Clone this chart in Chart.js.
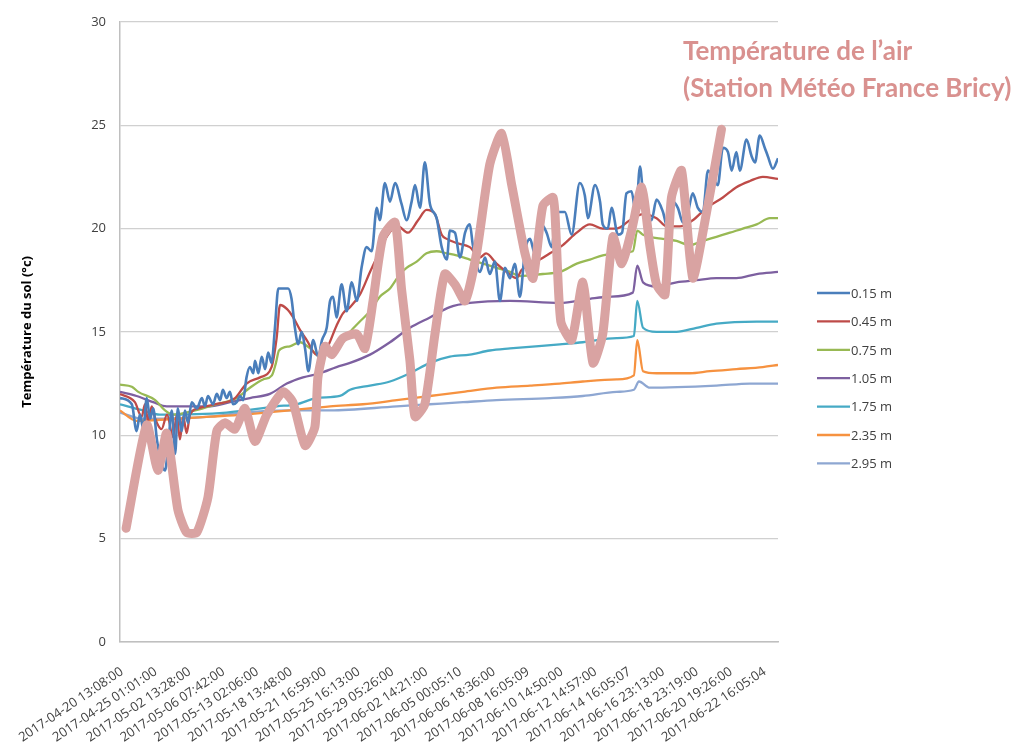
<!DOCTYPE html>
<html>
<head>
<meta charset="utf-8">
<script src="https://cdn.jsdelivr.net/npm/chart.js@4/dist/chart.umd.min.js"></script>
<style>
  html, body { margin: 0; padding: 0; background: #fff; }
  canvas { display: block; }
</style>
</head>
<body>
<canvas id="chart" width="1021" height="742"></canvas>
<script>
// x values are in units of the label interval (label i sits at x = i)
const xLabels = [
    '2017-04-20 13:08:00', '2017-04-25 01:01:00', '2017-05-02 13:28:00', '2017-05-06 07:42:00',
    '2017-05-13 02:06:00', '2017-05-18 13:48:00', '2017-05-21 16:59:00', '2017-05-25 16:13:00',
    '2017-05-29 05:26:00', '2017-06-02 14:21:00', '2017-06-05 00:05:10', '2017-06-06 18:36:00',
    '2017-06-08 16:05:09', '2017-06-10 14:50:00', '2017-06-12 14:57:00', '2017-06-14 16:05:07',
    '2017-06-16 23:13:00', '2017-06-18 23:19:00', '2017-06-20 19:26:00', '2017-06-22 16:05:04'
];
const yTicks = [0, 5, 10, 15, 20, 25, 30];

// Température de l'air (Météo France Bricy)
const airTemp = [
    [0.12, 5.5], [0.73, 10.5], [1.06, 8.3], [1.32, 10.1], [1.65, 6.4], [1.91, 5.3], [2.21, 5.3],
    [2.54, 7.0], [2.80, 10.2], [3.04, 10.6], [3.34, 10.3], [3.63, 11.3], [3.93, 9.7], [4.28, 11.0],
    [4.76, 12.1], [5.05, 11.6], [5.41, 9.5], [5.70, 10.4], [5.79, 12.8], [6.00, 14.3], [6.20, 13.9],
    [6.53, 14.7], [6.94, 14.9], [7.18, 14.2], [7.42, 16.5], [7.71, 19.6], [8.07, 20.3], [8.26, 17.1],
    [8.51, 13.6], [8.66, 10.9], [8.95, 11.5], [9.25, 14.9], [9.54, 17.8], [9.84, 17.3], [10.14, 16.5],
    [10.48, 18.8], [10.87, 23.1], [11.22, 24.6], [11.52, 22.1], [11.91, 18.8], [12.15, 17.6],
    [12.44, 21.1], [12.74, 21.5], [12.82, 20.0], [12.97, 15.5], [13.29, 14.6], [13.62, 17.4],
    [13.92, 13.5], [14.21, 14.9], [14.51, 19.6], [14.77, 18.3], [15.06, 19.9], [15.36, 22.0],
    [15.60, 19.2], [15.80, 17.3], [16.05, 16.8], [16.24, 21.5], [16.54, 22.8], [16.87, 17.6],
    [17.28, 20.8], [17.72, 24.8]
];

const soil015 = [
    [-0.06, 11.8], [0.29, 11.5], [0.43, 10.2], [0.53, 11.0], [0.63, 10.3], [0.73, 11.8], [0.83, 10.8],
    [0.92, 11.3], [1.03, 9.8], [1.17, 8.6], [1.27, 8.3], [1.36, 9.4], [1.47, 11.2], [1.57, 9.1],
    [1.65, 11.3], [1.76, 10.2], [1.86, 11.2], [1.95, 10.6], [2.06, 11.6], [2.21, 11.3], [2.36, 11.8],
    [2.45, 11.4], [2.54, 11.9], [2.69, 11.5], [2.80, 12.0], [2.90, 11.7], [2.98, 12.2], [3.09, 11.8],
    [3.19, 12.1], [3.28, 11.5], [3.39, 11.6], [3.49, 11.9], [3.58, 11.7], [3.68, 12.8], [3.78, 13.3],
    [3.88, 13.0], [3.93, 13.6], [4.03, 13.0], [4.13, 13.8], [4.23, 13.2], [4.32, 14.0], [4.42, 13.5],
    [4.52, 15.2], [4.62, 17.1], [4.91, 17.1], [5.01, 16.6], [5.11, 15.2], [5.21, 14.4], [5.31, 15.0],
    [5.41, 14.2], [5.51, 13.1], [5.65, 14.6], [5.80, 13.8], [5.91, 14.6], [6.05, 15.2], [6.15, 16.5],
    [6.24, 16.7], [6.34, 15.7], [6.49, 17.3], [6.64, 16.0], [6.79, 17.4], [6.94, 16.5], [7.08, 18.1],
    [7.23, 19.1], [7.38, 18.9], [7.53, 21.0], [7.62, 20.4], [7.77, 22.2], [7.92, 21.3], [8.07, 22.2],
    [8.26, 21.2], [8.41, 20.4], [8.56, 21.3], [8.66, 22.1], [8.81, 21.0], [8.95, 23.2], [9.10, 21.2],
    [9.30, 20.5], [9.45, 19.1], [9.60, 18.5], [9.69, 19.9], [9.84, 19.8], [9.99, 18.6], [10.14, 19.8],
    [10.28, 20.2], [10.37, 19.2], [10.58, 17.9], [10.73, 18.6], [10.87, 17.8], [11.02, 18.4],
    [11.17, 16.5], [11.32, 18.1], [11.47, 17.6], [11.61, 18.3], [11.76, 16.7], [11.91, 18.9],
    [12.06, 19.5], [12.20, 18.8], [12.40, 20.2], [12.55, 19.8], [12.70, 19.1], [12.84, 20.8],
    [13.09, 20.8], [13.29, 19.7], [13.53, 22.2], [13.68, 21.6], [13.77, 20.5], [13.98, 22.1],
    [14.13, 21.3], [14.21, 20.2], [14.36, 20.0], [14.47, 21.0], [14.66, 19.7], [14.78, 19.8],
    [14.91, 21.7], [15.06, 21.8], [15.19, 20.7], [15.31, 23.0], [15.40, 21.7], [15.51, 20.8],
    [15.65, 20.4], [15.80, 21.4], [15.99, 20.8], [16.13, 20.0], [16.28, 21.3], [16.43, 21.0],
    [16.58, 20.3], [16.73, 20.8], [16.87, 21.7], [17.02, 21.0], [17.17, 20.8], [17.32, 22.8],
    [17.46, 22.5], [17.61, 22.1], [17.76, 23.9], [17.91, 23.7], [18.02, 22.8], [18.16, 23.7],
    [18.26, 22.8], [18.46, 24.3], [18.61, 23.5], [18.71, 23.2], [18.85, 24.5], [19.00, 23.9],
    [19.09, 23.5], [19.24, 22.9], [19.39, 23.4]
];

const soil045 = [
    [-0.06, 12.0], [0.38, 11.6], [0.58, 10.9], [0.68, 11.5], [0.77, 10.7], [0.88, 11.4], [0.98, 10.8],
    [1.17, 10.3], [1.33, 11.0], [1.51, 9.9], [1.62, 11.0], [1.71, 9.8], [1.81, 10.9], [1.91, 10.1],
    [2.01, 11.0], [2.25, 11.3], [2.75, 11.5], [3.34, 11.8], [3.68, 12.5], [4.08, 12.8], [4.42, 13.3],
    [4.57, 14.7], [4.67, 16.3], [4.88, 16.1], [5.06, 15.7], [5.26, 15.1], [5.46, 14.6], [5.75, 13.9],
    [6.05, 14.2], [6.34, 15.3], [6.53, 15.9], [6.74, 16.2], [7.03, 16.8], [7.33, 17.9], [7.53, 18.6],
    [7.86, 19.7], [8.16, 20.1], [8.45, 19.8], [8.75, 20.4], [9.00, 20.9], [9.25, 20.7], [9.45, 19.7],
    [9.60, 19.5], [9.89, 19.3], [10.28, 19.1], [10.58, 18.6], [10.76, 18.8], [11.07, 18.3],
    [11.37, 17.9], [11.66, 17.6], [11.81, 18.0], [12.06, 18.3], [12.35, 18.5], [12.65, 18.8],
    [13.03, 19.2], [13.44, 19.8], [13.83, 20.2], [14.21, 20.0], [14.62, 20.0], [15.01, 20.4],
    [15.40, 20.7], [15.80, 20.5], [16.10, 20.1], [16.49, 20.1], [16.87, 20.4], [17.28, 21.0],
    [17.76, 21.5], [18.16, 22.0], [18.56, 22.3], [18.94, 22.5], [19.39, 22.4]
];

const soil075 = [
    [-0.06, 12.45], [0.29, 12.35], [0.48, 12.1], [0.98, 11.7], [1.27, 11.2], [1.51, 11.0], [2.16, 11.2],
    [2.80, 11.5], [3.39, 11.8], [3.78, 12.3], [4.17, 12.7], [4.43, 12.9], [4.55, 13.5], [4.64, 14.1],
    [4.96, 14.3], [5.26, 14.5], [5.56, 14.2], [5.85, 13.8], [6.24, 14.2], [6.44, 14.3], [6.74, 15.0],
    [7.03, 15.5], [7.33, 16.0], [7.62, 16.7], [7.92, 17.1], [8.22, 17.8], [8.41, 18.1], [8.71, 18.4],
    [9.00, 18.8], [9.30, 18.9], [9.60, 18.8], [9.89, 18.7], [10.28, 18.5], [10.67, 18.3], [11.07, 18.1],
    [11.47, 17.9], [11.76, 17.7], [12.44, 17.8], [12.94, 17.9], [13.44, 18.3], [13.83, 18.5],
    [14.21, 18.7], [14.62, 18.8], [15.10, 18.9], [15.23, 19.9], [15.40, 19.7], [15.60, 19.6],
    [15.99, 19.5], [16.39, 19.4], [16.78, 19.2], [17.17, 19.4], [17.57, 19.6], [17.97, 19.8],
    [18.35, 20.0], [18.76, 20.2], [19.15, 20.5], [19.39, 20.5]
];

const soil105 = [
    [-0.06, 12.1], [0.43, 11.9], [0.92, 11.6], [1.32, 11.4], [1.91, 11.4], [2.60, 11.4], [3.19, 11.6],
    [3.78, 11.8], [4.37, 12.0], [4.87, 12.5], [5.35, 12.8], [5.85, 13.0], [6.34, 13.3], [6.74, 13.5],
    [7.33, 13.9], [7.92, 14.5], [8.51, 15.2], [9.10, 15.7], [9.69, 16.2], [10.28, 16.4], [11.47, 16.5],
    [12.94, 16.4], [13.83, 16.6], [14.42, 16.7], [15.10, 16.9], [15.23, 18.2], [15.40, 17.4],
    [15.80, 17.2], [16.39, 17.4], [16.98, 17.5], [17.57, 17.6], [18.16, 17.6], [18.76, 17.8], [19.39, 17.9]
];

const soil175 = [
    [-0.06, 11.5], [0.62, 11.2], [1.12, 11.0], [3.09, 11.1], [4.57, 11.4], [5.16, 11.5], [5.75, 11.8],
    [6.44, 11.9], [6.74, 12.2], [7.33, 12.4], [7.92, 12.6], [8.51, 13.0], [9.10, 13.5], [9.69, 13.8],
    [10.28, 13.9], [10.87, 14.1], [11.47, 14.2], [12.94, 14.4], [13.62, 14.5], [14.62, 14.7],
    [15.13, 14.8], [15.23, 16.5], [15.40, 15.2], [15.80, 15.0], [16.39, 15.0], [16.98, 15.2],
    [17.57, 15.4], [18.76, 15.5], [19.39, 15.5]
];

const soil235 = [
    [-0.06, 11.2], [0.43, 10.7], [1.62, 10.8], [2.60, 10.9], [3.58, 11.0], [4.96, 11.2], [6.15, 11.4],
    [7.12, 11.5], [8.12, 11.7], [9.10, 11.9], [10.08, 12.1], [11.07, 12.3], [12.06, 12.4], [12.94, 12.5],
    [13.62, 12.6], [14.62, 12.7], [15.13, 12.9], [15.23, 14.6], [15.40, 13.1], [15.80, 13.0],
    [16.78, 13.0], [17.38, 13.1], [18.16, 13.2], [18.94, 13.3], [19.39, 13.4]
];

const soil295 = [
    [-0.06, 11.1], [0.62, 10.8], [2.60, 10.9], [3.58, 11.1], [4.96, 11.2], [6.15, 11.2], [8.12, 11.4],
    [9.10, 11.5], [10.08, 11.6], [11.07, 11.7], [12.65, 11.8], [13.62, 11.9], [14.62, 12.1],
    [15.13, 12.2], [15.28, 12.6], [15.60, 12.3], [17.57, 12.4], [18.56, 12.5], [19.39, 12.5]
];

const depthNames = ['0.15 m', '0.45 m', '0.75 m', '1.05 m', '1.75 m', '2.35 m', '2.95 m'];
const depthColors = ['#4a7ebb', '#be4b48', '#98b954', '#7d60a0', '#46aac5', '#f69240', '#8ea7d2'];
const depthSeries = [soil015, soil045, soil075, soil105, soil175, soil235, soil295];

const airColor = '#d9a3a2';
const txtColor = '#404040';

const datasets = [{
    label: "Température de l'air",
    data: airTemp,
    borderColor: airColor,
    borderWidth: 9,
    borderCapStyle: 'round',
    borderJoinStyle: 'round',
    tension: 0.2,
    pointRadius: 0,
    fill: false
}];
depthSeries.forEach((series, i) => {
    datasets.push({
        label: depthNames[i],
        data: series,
        borderColor: depthColors[i],
        backgroundColor: depthColors[i],
        borderWidth: i === 0 ? 2.6 : 2.3,
        cubicInterpolationMode: 'monotone',
        pointRadius: 0,
        fill: false
    });
});

// legend on the right, plus the pink air temperature caption
const sideText = {
    id: 'sideText',
    afterDraw(chart) {
        const ctx = chart.ctx;
        const area = chart.chartArea;
        ctx.save();
        // caption
        ctx.fillStyle = '#d9918f';
        ctx.font = 'bold 26px Lato';
        ctx.textBaseline = 'alphabetic';
        ctx.textAlign = 'left';
        ctx.fillText("Température de l’air", area.right - 95, 60);
        ctx.fillText('(Station Météo France Bricy)', area.right - 95, 97);
        // legend
        const lx = area.right + 39;
        const ly = 293;
        ctx.font = '13px "Open Sans"';
        ctx.textBaseline = 'middle';
        depthNames.forEach((name, i) => {
            const y = ly + i * 28.4;
            ctx.strokeStyle = depthColors[i];
            ctx.lineWidth = i === 0 ? 2.6 : 2.3;
            ctx.beginPath();
            ctx.moveTo(lx, y);
            ctx.lineTo(lx + 33, y);
            ctx.stroke();
            ctx.fillStyle = txtColor;
            ctx.fillText(name, lx + 34, y + 1);
        });
        ctx.restore();
    }
};

const bgWhite = {
    id: 'bgWhite',
    beforeDraw(chart) {
        const ctx = chart.ctx;
        ctx.save();
        ctx.fillStyle = '#ffffff';
        ctx.fillRect(0, 0, chart.width, chart.height);
        ctx.restore();
    }
};

new Chart(document.getElementById('chart'), {
    type: 'line',
    data: { datasets: datasets },
    options: {
        responsive: false,
        animation: false,
        layout: { padding: { top: 20, right: 243, left: 0, bottom: 0 } },
        plugins: {
            legend: { display: false },
            tooltip: { enabled: false }
        },
        scales: {
            x: {
                type: 'linear',
                min: -0.06,
                max: 19.39,
                afterFit: s => { s.height = 100; s.paddingLeft = 0; s.paddingRight = 0; },
                grid: { display: false, drawTicks: false },
                border: { display: true, color: '#bfbfbf', width: 1.5 },
                ticks: {
                    stepSize: 1,
                    autoSkip: false,
                    includeBounds: false,
                    minRotation: 34,
                    maxRotation: 34,
                    padding: 22,
                    color: txtColor,
                    font: { family: 'Open Sans', size: 13 },
                    callback: v => xLabels[v] ?? ''
                }
            },
            y: {
                min: yTicks[0],
                max: yTicks[yTicks.length - 1],
                afterFit: s => { s.width = 120; },
                afterBuildTicks: s => { s.ticks = yTicks.map(v => ({ value: v })); },
                grid: { color: '#d0d0d0', lineWidth: 1.2, drawTicks: false },
                border: { display: true, color: '#bfbfbf', width: 1.5 },
                ticks: {
                    padding: 14,
                    color: txtColor,
                    font: { family: 'Open Sans', size: 13 }
                },
                title: {
                    display: true,
                    text: 'Température du sol (°c)',
                    color: '#000',
                    font: { family: 'Open Sans', size: 13, weight: 'bold' },
                    padding: { top: 19, bottom: 0 }
                }
            }
        }
    },
    plugins: [bgWhite, sideText]
});
</script>
</body>
</html>
